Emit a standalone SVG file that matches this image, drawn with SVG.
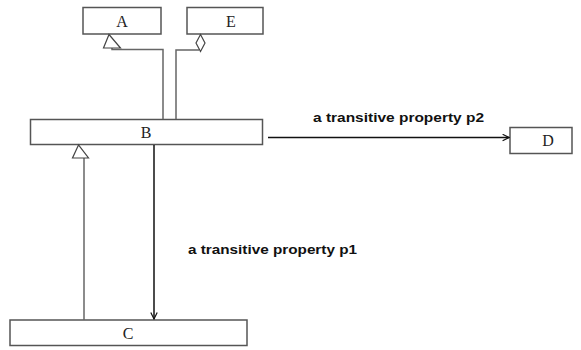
<svg xmlns="http://www.w3.org/2000/svg" width="581" height="350" viewBox="0 0 581 350">
<defs>
<style>
.box{fill:#fff;stroke:#555;stroke-width:1.5}
.nt{font-family:"Liberation Serif",serif;font-size:16px;fill:#222;text-anchor:middle}
.lbl{font-family:"Liberation Sans",Arial,sans-serif;font-size:13.5px;font-weight:bold;fill:#111}
.gl{fill:none;stroke:#666;stroke-width:1.5}
.ar{fill:none;stroke:#111;stroke-width:1.5}
.hd{fill:#fff;stroke:#444;stroke-width:1.2}
</style>
<marker id="open" viewBox="0 0 10 10" refX="9" refY="5" markerWidth="8" markerHeight="8" orient="auto" markerUnits="userSpaceOnUse">
<path d="M1,1 L9,5 L1,9" fill="none" stroke="#111" stroke-width="1.5"/>
</marker>
</defs>
<g id="A"><rect class="box" x="83" y="7.5" width="78" height="26.5"/><text class="nt" x="122" y="26.5">A</text></g>
<g id="E"><rect class="box" x="187" y="7.5" width="76" height="26.5"/><text class="nt" x="231" y="26.5">E</text></g>
<g id="B"><rect class="box" x="30.5" y="119.5" width="232" height="25"/><text class="nt" x="146" y="137.5">B</text></g>
<g id="C"><rect class="box" x="10" y="320" width="237" height="25.5"/><text class="nt" x="128" y="338.5">C</text></g>
<g id="D"><rect class="box" x="510" y="127.5" width="62" height="26"/><text class="nt" x="548" y="146">D</text></g>
<g id="connectors">
<path class="gl" d="M163,119 V49.5 H112 V48"/>
<path class="hd" d="M109,34.5 L103.5,48 L120.5,48 Z"/>
<path class="gl" d="M176,119 V50 H199"/>
<path class="hd" d="M200.5,34.5 L205,43 L200.5,51.5 L196,43 Z"/>
<path class="gl" d="M84,320 V158"/>
<path class="hd" d="M78.5,145 L72.5,158 L88.5,158 Z"/>
<path class="ar" d="M154,145 V319" marker-end="url(#open)"/>
<path class="ar" d="M268,137.5 H509" marker-end="url(#open)"/>
<text class="lbl" x="313" y="122" textLength="171" lengthAdjust="spacingAndGlyphs">a transitive property p2</text>
<text class="lbl" x="188" y="253.5" textLength="169" lengthAdjust="spacingAndGlyphs">a transitive property p1</text>
</g>
</svg>
